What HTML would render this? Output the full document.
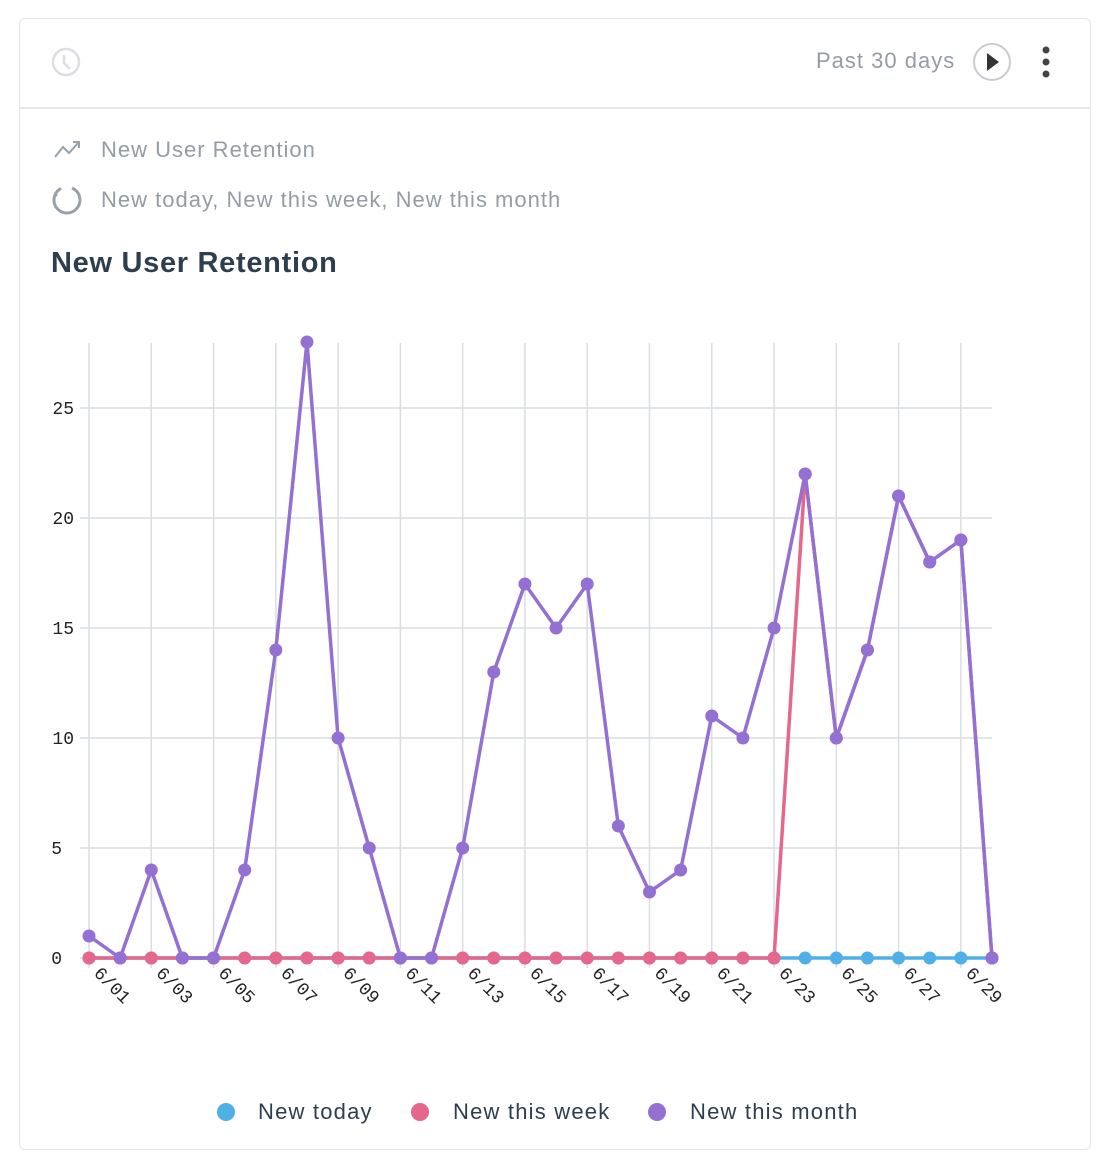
<!DOCTYPE html>
<html><head><meta charset="utf-8"><style>
body{margin:0;background:#fff;width:1102px;height:1164px;position:relative;font-family:"Liberation Sans",sans-serif;overflow:hidden}
.card{position:absolute;left:19px;top:18px;width:1070px;height:1130px;border:1px solid #e3e5e8;border-radius:6px}
.hdr{position:absolute;left:0;top:0;right:0;height:88px;border-bottom:2px solid #e6e8eb}
.t{position:absolute;color:#959ca5;font-size:22px;letter-spacing:1px}
</style></head><body>
<div class="card"><div class="hdr"></div></div>
<svg width="1102" height="1164" style="position:absolute;left:0;top:0">
<circle cx="66" cy="62" r="13" fill="none" stroke="#dcdee1" stroke-width="2.5"/>
<path d="M64 55 L64 63 L70 69" fill="none" stroke="#dcdee1" stroke-width="2.5"/>
<circle cx="992" cy="62" r="18" fill="none" stroke="#c9ccd1" stroke-width="2"/>
<path d="M987 53 L999 62 L987 71 Z" fill="#333"/>
<circle cx="1046" cy="50" r="3.5" fill="#444"/><circle cx="1046" cy="62" r="3.5" fill="#444"/><circle cx="1046" cy="74" r="3.5" fill="#444"/>
<path d="M55 157 L63 147 L69 153 L79 142 M73 142 L79 142 L79 148" fill="none" stroke="#98a0a9" stroke-width="2"/>
<path d="M72 188 A13 13 0 1 1 60 189" fill="none" stroke="#98a0a9" stroke-width="3"/>
<circle cx="56" cy="195" r="1.5" fill="#98a0a9"/><circle cx="60" cy="189" r="1.5" fill="#98a0a9"/>
<g id="g"></g>
<g font-size="18" font-family="Liberation Mono,monospace" fill="#222" text-anchor="end">
<text x="74" y="414">25</text><text x="74" y="524">20</text><text x="74" y="634">15</text><text x="74" y="744">10</text><text x="62" y="854">5</text><text x="62" y="964">0</text>
</g>
<g font-size="22" fill="#2e3e4f" letter-spacing="1.2">
<circle cx="226" cy="1112" r="9" fill="#4fb0e8"/><text x="258" y="1119">New today</text>
<circle cx="420" cy="1112" r="9" fill="#e5678c"/><text x="453" y="1119">New this week</text>
<circle cx="657" cy="1112" r="9" fill="#9370d1"/><text x="690" y="1119">New this month</text>
</g>
</svg>
<div class="t" style="left:816px;top:48px">Past 30 days</div>
<div class="t" style="left:101px;top:137px">New User Retention</div>
<div class="t" style="left:101px;top:187px">New today, New this week, New this month</div>
<div style="position:absolute;left:51px;top:247px;font-size:29px;font-weight:bold;color:#2e3e4f;letter-spacing:0.7px">New User Retention</div>
<script>
var X=i=>89+i*31.138,Y=v=>958-22*v;
var P=[1,0,4,0,0,4,14,28,10,5,0,0,5,13,17,15,17,6,3,4,11,10,15,22,10,14,21,18,19,0];
var R=P.map((v,i)=>i<23?0:v);
var s='';
for(var i=0;i<30;i+=2)s+=`<line x1="${X(i)}" y1="343" x2="${X(i)}" y2="968" stroke="#dadde1" stroke-width="1.5"/>`;
for(var v=0;v<=25;v+=5)s+=`<line x1="80" y1="${Y(v)}" x2="992" y2="${Y(v)}" stroke="#dadde1" stroke-width="1.5"/>`;
function line(a,c){return `<polyline points="${a.map((v,i)=>X(i)+','+Y(v)).join(' ')}" fill="none" stroke="${c}" stroke-width="3.5" stroke-linejoin="round"/>`}
s+=line(P.map(()=>0),'#4fb0e8');s+=line(R,'#e5678c');s+=line(P,'#9370d1');
for(var i=0;i<30;i++){s+=`<circle cx="${X(i)}" cy="958" r="6.5" fill="#4fb0e8"/>`;}
for(var i=0;i<30;i++){s+=`<circle cx="${X(i)}" cy="${Y(R[i])}" r="6.5" fill="#e5678c"/>`;}
for(var i=0;i<30;i++){s+=`<circle cx="${X(i)}" cy="${Y(P[i])}" r="6.5" fill="#9370d1"/>`;}
for(var i=0;i<30;i+=2){var d=1+i;s+=`<text font-family="Liberation Mono,monospace" font-size="18" fill="#222" transform="translate(${X(i)+4},${974}) rotate(45)">6/${d<10?'0'+d:d}</text>`;}
document.getElementById('g').innerHTML=s;
</script>
</body></html>
